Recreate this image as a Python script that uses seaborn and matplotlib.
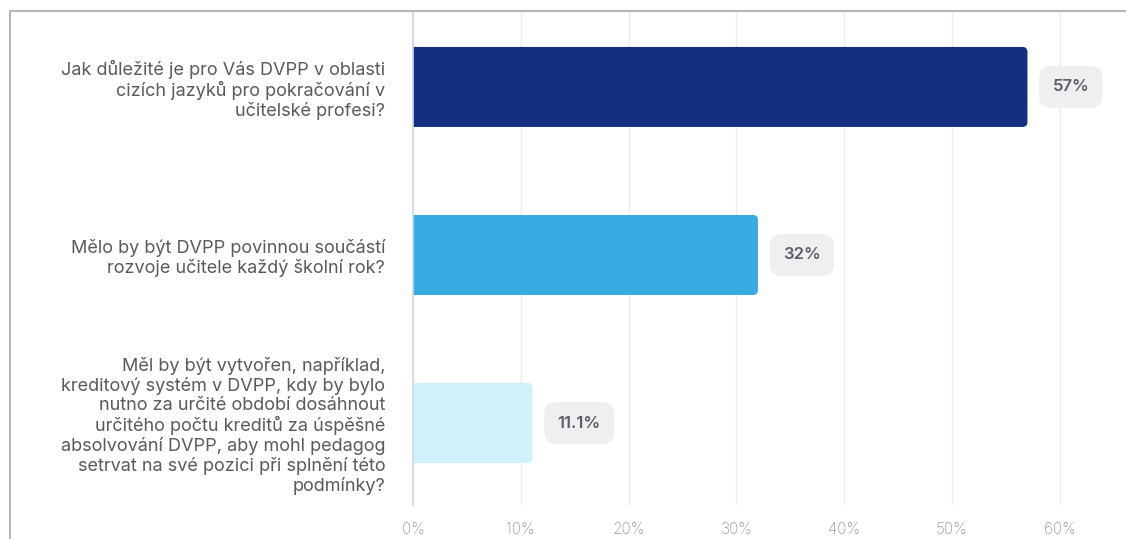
import matplotlib
matplotlib.use("Agg")
import matplotlib.pyplot as plt
import seaborn as sns
import pandas as pd
from matplotlib.patches import FancyBboxPatch
from matplotlib.lines import Line2D

questions = [
    "Jak důležité je pro Vás DVPP v oblasti\ncizích jazyků pro pokračování v\nučitelské profesi?",
    "Mělo by být DVPP povinnou součástí\nrozvoje učitele každý školní rok?",
    "Měl by být vytvořen, například,\nkreditový systém v DVPP, kdy by bylo\nnutno za určité období dosáhnout\nurčitého počtu kreditů za úspěšné\nabsolvování DVPP, aby mohl pedagog\nsetrvat na své pozici při splnění této\npodmínky?",
]
shares = [57, 32, 11.1]
value_labels = ["57%", "32%", "11.1%"]
bar_colors = ["#142e82", "#38abe3", "#d0f1fa"]
tick_values = [0, 10, 20, 30, 40, 50, 60]
tick_labels = ["0%", "10%", "20%", "30%", "40%", "50%", "60%"]

sns.set_theme(style="white")
plt.rcParams["font.family"] = ["Inter", "DejaVu Sans"]

W, H = 1126, 539
fig = plt.figure(figsize=(W / 100, H / 100), dpi=100)
ax_left, ax_right = 413, 1126
ax_top, ax_bottom = 11, 505
ax = fig.add_axes([ax_left / W, 1 - ax_bottom / H,
                   (ax_right - ax_left) / W, (ax_bottom - ax_top) / H])

df = pd.DataFrame({"question": questions, "share": shares})
sns.barplot(data=df, x="share", y="question", hue="question",
            palette=bar_colors, saturation=1, orient="h", width=0.476,
            ax=ax, legend=False, zorder=3)

x_per_px = 1 / 10.78
xmax = (ax_right - ax_left) * x_per_px
ax.set_xlim(0, xmax)
ax.set_ylim(2.488, -0.452)
y_per_px = (2.488 + 0.452) / (ax_bottom - ax_top)

# rounded right ends for the bars, plus value badges
radius = 5 * x_per_px
aspect = y_per_px / x_per_px
for i, p in enumerate(list(ax.patches)):
    x0, y0 = p.get_x(), p.get_y()
    w, h = p.get_width(), p.get_height()
    rounded = FancyBboxPatch((x0 - 2, y0), w + 2, h,
                             boxstyle=f"round,pad=0,rounding_size={radius}",
                             mutation_aspect=aspect,
                             facecolor=p.get_facecolor(), edgecolor="none",
                             zorder=3)
    p.set_visible(False)
    ax.add_patch(rounded)

    ax.annotate(value_labels[i], xy=(x0 + w, y0 + h / 2),
                xytext=(25, 0), textcoords="offset pixels",
                ha="left", va="center", fontsize=12, fontweight="semibold",
                color="#5b5e66", zorder=5,
                bbox=dict(boxstyle="round,pad=0.8,rounding_size=0.7",
                          facecolor="#eeeff0", edgecolor="none"))

ax.set_xticks(tick_values)
ax.set_xticklabels(tick_labels, fontsize=11, color="#9a9a9a")
ax.tick_params(axis="x", length=0, pad=12)
ax.tick_params(axis="y", length=0, pad=20)
for lab in ax.get_xticklabels():
    lab.set_fontweight("light")
for lab in ax.get_yticklabels():
    lab.set_fontsize(13)
    lab.set_color("#5a5a5a")
    lab.set_linespacing(1.15)
    lab.set_horizontalalignment("right")
    lab.set_multialignment("right")

ax.grid(axis="x", color="#ebebeb", linewidth=1, zorder=0)
ax.grid(axis="y", visible=False)
ax.set_xlabel("")
ax.set_ylabel("")
for side in ["top", "right", "bottom"]:
    ax.spines[side].set_visible(False)
ax.spines["left"].set_color("#cdd6e6")
ax.spines["left"].set_linewidth(1.2)
ax.spines["left"].set_zorder(4)

# outer frame lines (top and left)
fig.add_artist(Line2D([10 / W, 1], [1 - 11 / H, 1 - 11 / H],
                      transform=fig.transFigure, color="#b5b5b5", linewidth=1.5))
fig.add_artist(Line2D([10 / W, 10 / W], [0, 1 - 11 / H],
                      transform=fig.transFigure, color="#b5b5b5", linewidth=1.5))

fig.savefig("out.png", dpi=100, facecolor="white")
